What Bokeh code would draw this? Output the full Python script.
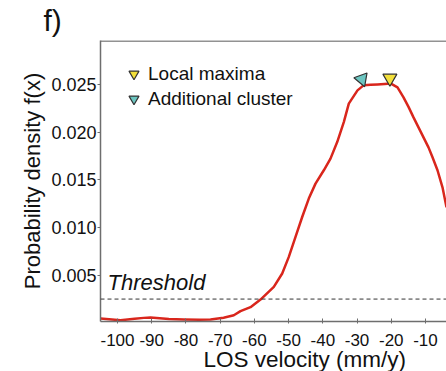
from bokeh.plotting import figure
from bokeh.models import (Range1d, FixedTicker, Label, Span, Legend, Title,
                          LegendItem, NumeralTickFormatter)
from bokeh.embed import file_html
from bokeh.resources import INLINE

# ---- data ----
velocity = [-104.97, -99.12, -95.0, -92.31, -90.36, -85.0, -80.63, -76.0, -72.82,
            -69.0, -66.01, -64.06, -61.13, -58.21, -54.32, -51.87, -49.94, -47.98,
            -46.03, -44.10, -42.14, -39.71, -37.76, -35.80, -33.87, -32.41, -29.87,
            -28.11, -26.07, -24.02, -21.98, -20.22, -18.18, -16.42, -14.96, -13.50,
            -12.04, -10.58, -9.12, -7.95, -6.49, -5.03, -3.86]
density = [0.00047, 0.00029, 0.00045, 0.00053, 0.00057, 0.0004, 0.00036, 0.00034,
           0.00036, 0.00055, 0.00081, 0.00123, 0.00165, 0.00245, 0.00377, 0.00518,
           0.00692, 0.00901, 0.0111, 0.01303, 0.0146, 0.016, 0.01722, 0.01896,
           0.02105, 0.02298, 0.02437, 0.0249, 0.02495, 0.025, 0.02505, 0.0251,
           0.02469, 0.02364, 0.02264, 0.02154, 0.0205, 0.01945, 0.0184, 0.01736,
           0.016, 0.01421, 0.01212]

maxima_x = [-20.4]
maxima_y = [0.02565]
cluster_x = [-28.6]
cluster_y = [0.02555]

threshold = 0.0025

x_ticks = [-100, -90, -80, -70, -60, -50, -40, -30, -20, -10]
y_ticks = [0.005, 0.010, 0.015, 0.020, 0.025]

FONT = "Liberation Sans"
TXT = "#111111"
axis_color = "#6e6e6e"

p = figure(frame_width=346, frame_height=281,
           x_range=Range1d(-104.97, -3.86), y_range=Range1d(0.00015, 0.0296),
           output_backend="svg", toolbar_location=None,
           min_border_left=100, min_border_right=0, min_border_top=40,
           min_border_bottom=50)
p.outline_line_color = None
p.grid.visible = False

# panel letter
p.title = Title(text="f)", align="left", offset=-57, vertical_align="top",
                standoff=4, text_font=FONT, text_font_size="30px",
                text_font_style="normal", text_color=TXT)

# x axis
xa = p.xaxis[0]
xa.ticker = FixedTicker(ticks=x_ticks)
xa.major_label_overrides = {t: str(t) for t in x_ticks}
xa.axis_line_color = axis_color
xa.axis_line_width = 1.5
xa.major_tick_line_color = axis_color
xa.major_tick_in = 3
xa.major_tick_out = 2
xa.minor_tick_line_color = None
xa.major_label_text_font = FONT
xa.major_label_text_font_size = "17px"
xa.major_label_text_color = TXT
xa.major_label_standoff = 10

p.add_layout(Title(text="LOS velocity (mm/y)", align="left", offset=103,
                   vertical_align="bottom", standoff=-7, text_font=FONT,
                   text_font_size="22.5px", text_font_style="normal",
                   text_color=TXT), "below")

# y axis
ya = p.yaxis[0]
ya.ticker = FixedTicker(ticks=y_ticks)
ya.formatter = NumeralTickFormatter(format="0.000")
ya.axis_line_color = axis_color
ya.axis_line_width = 1.5
ya.major_tick_line_color = axis_color
ya.major_tick_in = 0
ya.major_tick_out = 3
ya.minor_tick_line_color = None
ya.major_label_text_font = FONT
ya.major_label_text_font_size = "18px"
ya.major_label_text_color = TXT
ya.major_label_standoff = 1
ya.axis_label = "Probability density f(x)"
ya.axis_label_text_font = FONT
ya.axis_label_text_font_size = "22px"
ya.axis_label_text_font_style = "normal"
ya.axis_label_text_color = TXT
ya.axis_label_standoff = 3

# top border of the panel
p.add_layout(Span(location=0.02955, dimension="width", line_color=axis_color,
                  line_width=1.5))

# threshold
p.add_layout(Span(location=threshold, dimension="width", line_color="#333333",
                  line_width=1, line_dash="4 3"))
p.add_layout(Label(x=-102.9, y=0.00427, text="Threshold", text_font=FONT,
                   text_font_size="22px", text_font_style="italic",
                   text_color=TXT, text_baseline="alphabetic"))

# density curve
p.line(velocity, density, line_color="#d9261c", line_width=2.5, line_join="round")

# markers
r_max = p.scatter(maxima_x, maxima_y, marker="inverted_triangle", size=14,
                  fill_color="#f3e03a", line_color="#333333", line_width=1.2)
r_cl = p.scatter(cluster_x, cluster_y, marker="inverted_triangle", size=14,
                 angle=0.35, fill_color="#6cc6c1", line_color="#333333",
                 line_width=1.2)

legend = Legend(items=[LegendItem(label="Local maxima", renderers=[r_max]),
                       LegendItem(label="Additional cluster", renderers=[r_cl])],
                location="top_left", margin=21, padding=0, spacing=0,
                glyph_width=25, glyph_height=25, label_height=25,
                label_standoff=2, border_line_color=None,
                background_fill_alpha=0, label_text_font=FONT,
                label_text_font_size="19px", label_text_color=TXT)
p.add_layout(legend)

open("out.html", "w").write(file_html(p, INLINE))
